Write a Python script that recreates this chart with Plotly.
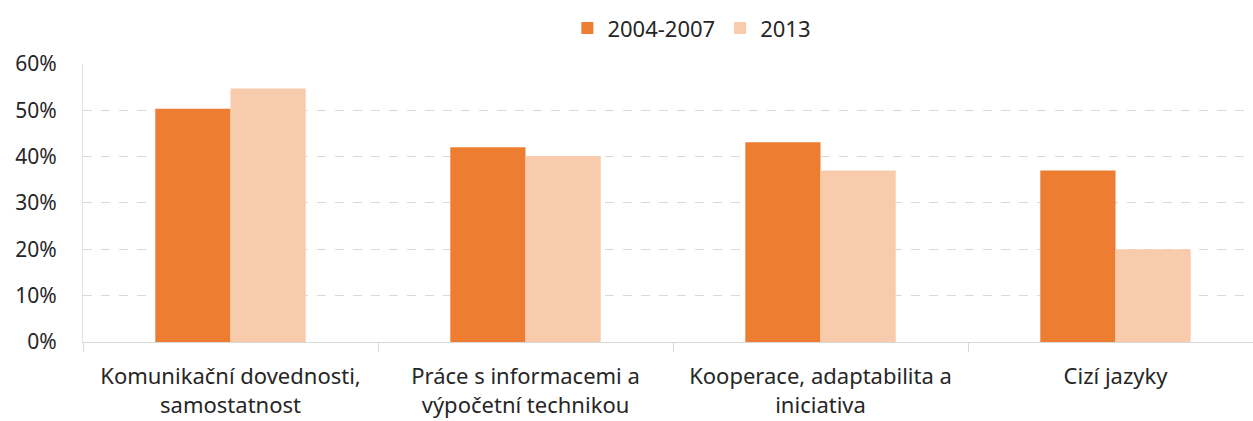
import plotly.graph_objects as go

categories = [
    "Komunikační dovednosti,<br>samostatnost",
    "Práce s informacemi a<br>výpočetní technikou",
    "Kooperace, adaptabilita a<br>iniciativa",
    "Cizí jazyky",
]
series_names = ["2004-2007", "2013"]
values_2004_2007 = [50.3, 42.0, 43.1, 37.0]
values_2013 = [54.7, 40.1, 37.0, 20.0]
y_ticks = [0, 10, 20, 30, 40, 50, 60]
y_tick_labels = [f"{v}%" for v in y_ticks]

colors = ["#ED7D31", "#F8CBAD"]
font_family = "Noto Sans"

fig = go.Figure()
for name, vals, col in zip(series_names, [values_2004_2007, values_2013], colors):
    fig.add_trace(go.Bar(
        x=categories, y=vals, name=name,
        marker=dict(color=col, line=dict(width=0)),
    ))

fig.update_layout(
    width=1253, height=421,
    margin=dict(l=83, r=0, t=62, b=79),
    paper_bgcolor="white", plot_bgcolor="white",
    barmode="group", bargap=0.49, bargroupgap=0,
    font=dict(family=font_family, size=21, color="#262626"),
    legend=dict(
        orientation="h", x=0.414, xanchor="left",
        yref="container", y=0.933, yanchor="middle",
        font=dict(size=22, color="#262626"),
        traceorder="normal", itemwidth=30,
    ),
    showlegend=True,
)

fig.update_xaxes(
    range=[-0.5, 3.466],
    showline=True, linecolor="#D9D9D9", linewidth=1,
    ticks="outside", tickson="boundaries", ticklen=9, tickcolor="#D9D9D9",
    showgrid=False, ticklabelstandoff=15,
    tickfont=dict(size=22, color="#262626"),
)
fig.update_yaxes(
    range=[0, 60], tickvals=y_ticks, ticktext=y_tick_labels,
    showgrid=True, gridcolor="#D9D9D9", griddash="dash", gridwidth=1,
    zeroline=False,
    showline=True, linecolor="#E3E3E3", linewidth=1,
    ticks="", ticklabelstandoff=21,
    tickfont=dict(size=21, color="#262626"),
)

fig.write_html("out.html")
